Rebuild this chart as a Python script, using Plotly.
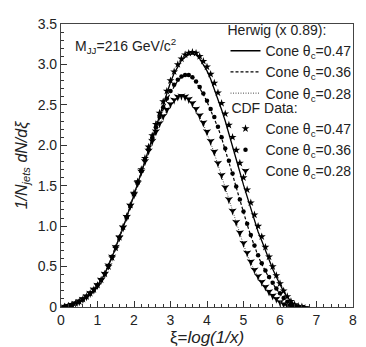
import plotly.graph_objects as go

# Herwig curves (x 0.89)
xi_curve = [round(0.1 * i, 1) for i in range(0, 69)]
herwig_047 = [0.0, 0.004, 0.012, 0.025, 0.042, 0.065, 0.093, 0.127, 0.167, 0.212,
              0.265, 0.33, 0.41, 0.51, 0.62, 0.74, 0.86, 0.98, 1.11, 1.25,
              1.39, 1.54, 1.68, 1.82, 1.96, 2.1, 2.24, 2.38, 2.52, 2.65,
              2.78, 2.89, 2.98, 3.05, 3.09, 3.12, 3.13, 3.12, 3.07, 3.0,
              2.92, 2.82, 2.7, 2.57, 2.44, 2.3, 2.15, 1.99, 1.83, 1.67,
              1.51, 1.36, 1.21, 1.07, 0.93, 0.82, 0.7, 0.58, 0.47, 0.37,
              0.27, 0.19, 0.12, 0.07, 0.035, 0.015, 0.006, 0.002, 0.0]
herwig_036 = [0.0, 0.004, 0.012, 0.025, 0.042, 0.065, 0.093, 0.127, 0.167, 0.212,
              0.265, 0.33, 0.41, 0.51, 0.62, 0.74, 0.86, 0.98, 1.11, 1.25,
              1.39, 1.54, 1.68, 1.81, 1.95, 2.08, 2.21, 2.33, 2.45, 2.56,
              2.65, 2.73, 2.8, 2.84, 2.86, 2.86, 2.83, 2.78, 2.71, 2.63,
              2.54, 2.44, 2.34, 2.22, 2.09, 1.95, 1.8, 1.64, 1.48, 1.32,
              1.17, 1.02, 0.88, 0.75, 0.63, 0.53, 0.44, 0.36, 0.29, 0.22,
              0.16, 0.1, 0.06, 0.03, 0.012, 0.004, 0.0, 0.0, 0.0]
herwig_028 = [0.0, 0.004, 0.012, 0.025, 0.042, 0.065, 0.093, 0.127, 0.167, 0.212,
              0.265, 0.33, 0.41, 0.51, 0.62, 0.74, 0.86, 0.98, 1.11, 1.25,
              1.39, 1.53, 1.67, 1.8, 1.93, 2.05, 2.16, 2.26, 2.35, 2.43,
              2.5, 2.55, 2.58, 2.6, 2.59, 2.56, 2.5, 2.43, 2.35, 2.26,
              2.15, 2.03, 1.9, 1.76, 1.61, 1.46, 1.31, 1.17, 1.03, 0.9,
              0.77, 0.65, 0.54, 0.45, 0.37, 0.3, 0.24, 0.18, 0.13, 0.09,
              0.055, 0.03, 0.014, 0.005, 0.0, 0.0, 0.0, 0.0, 0.0]

# CDF data
xi_data = [round(0.1 * i + 0.1, 1) for i in range(0, 66)]
cdf_047 = [0.005, 0.014, 0.027, 0.045, 0.068, 0.097, 0.13, 0.17, 0.215, 0.27,
           0.335, 0.41, 0.5, 0.61, 0.73, 0.86, 0.99, 1.12, 1.26, 1.41,
           1.55, 1.7, 1.84, 1.98, 2.12, 2.26, 2.4, 2.54, 2.67, 2.8,
           2.91, 3.0, 3.07, 3.12, 3.14, 3.15, 3.14, 3.1, 3.04, 2.97,
           2.88, 2.77, 2.65, 2.52, 2.39, 2.25, 2.1, 1.94, 1.78, 1.6,
           1.45, 1.29, 1.14, 1.0, 0.87, 0.74, 0.62, 0.5, 0.39, 0.29,
           0.2, 0.13, 0.07, 0.03, 0.01, 0.003]
cdf_036 = [0.005, 0.014, 0.027, 0.045, 0.068, 0.097, 0.13, 0.17, 0.215, 0.27,
           0.335, 0.41, 0.51, 0.62, 0.74, 0.86, 0.98, 1.11, 1.25, 1.39,
           1.54, 1.68, 1.82, 1.95, 2.09, 2.22, 2.35, 2.47, 2.58, 2.67,
           2.75, 2.81, 2.85, 2.87, 2.87, 2.84, 2.79, 2.72, 2.64, 2.55,
           2.45, 2.35, 2.23, 2.1, 1.96, 1.81, 1.65, 1.49, 1.33, 1.18,
           1.03, 0.89, 0.76, 0.64, 0.54, 0.45, 0.37, 0.3, 0.23, 0.17,
           0.11, 0.065, 0.033, 0.014, 0.005, 0.001]
cdf_028 = [0.005, 0.014, 0.027, 0.045, 0.068, 0.097, 0.13, 0.17, 0.215, 0.27,
           0.335, 0.41, 0.51, 0.62, 0.74, 0.86, 0.98, 1.11, 1.25, 1.39,
           1.53, 1.67, 1.8, 1.93, 2.05, 2.17, 2.27, 2.36, 2.44, 2.51,
           2.56, 2.6, 2.61, 2.6, 2.57, 2.52, 2.45, 2.37, 2.28, 2.17,
           2.05, 1.92, 1.78, 1.63, 1.48, 1.33, 1.19, 1.05, 0.92, 0.79,
           0.67, 0.56, 0.46, 0.38, 0.31, 0.25, 0.19, 0.14, 0.1, 0.06,
           0.034, 0.016, 0.006, 0.002, 0.0, 0.0]

y_ticks = [0, 0.5, 1.0, 1.5, 2.0, 2.5, 3.0, 3.5]
y_ticktext = ["0", "0.5", "1.0", "1.5", "2.0", "2.5", "3.0", "3.5"]
x_ticks = [0, 1, 2, 3, 4, 5, 6, 7, 8]

FONT = "Liberation Sans, Arial, sans-serif"
fig = go.Figure()

fig.add_trace(go.Scatter(x=xi_curve, y=herwig_047, mode="lines",
                         line=dict(color="black", width=1.3),
                         name="Cone θ<sub>c</sub>=0.47", legend="legend"))
fig.add_trace(go.Scatter(x=xi_curve, y=herwig_036, mode="lines",
                         line=dict(color="black", width=1.2, dash="3px,2px"),
                         name="Cone θ<sub>c</sub>=0.36", legend="legend"))
fig.add_trace(go.Scatter(x=xi_curve, y=herwig_028, mode="lines",
                         line=dict(color="#333", width=0.9, dash="1px,1.5px"),
                         name="Cone θ<sub>c</sub>=0.28", legend="legend"))

fig.add_trace(go.Scatter(x=xi_data, y=cdf_047, mode="markers",
                         marker=dict(symbol="star", size=6, color="black", line=dict(width=0)),
                         name="Cone θ<sub>c</sub>=0.47", legend="legend2"))
fig.add_trace(go.Scatter(x=xi_data, y=cdf_036, mode="markers",
                         marker=dict(symbol="circle", size=4.5, color="black", line=dict(width=0)),
                         name="Cone θ<sub>c</sub>=0.36", legend="legend2"))
fig.add_trace(go.Scatter(x=xi_data, y=cdf_028, mode="markers",
                         marker=dict(symbol="star-triangle-down", size=6, color="black", line=dict(width=0)),
                         name="Cone θ<sub>c</sub>=0.28", legend="legend2"))

legend_common = dict(xanchor="right", yanchor="top", bgcolor="rgba(0,0,0,0)",
                     font=dict(size=14, family=FONT, color="#222"),
                     itemwidth=30, tracegroupgap=0)

# page body has an 8px default margin; figure sized to fit the 366x347 window
fig.update_layout(
    width=358, height=339,
    margin=dict(l=53, r=13, t=9, b=40),
    paper_bgcolor="white", plot_bgcolor="white",
    font=dict(family=FONT, size=14, color="#222"),
    showlegend=True,
    legend=dict(x=1.012, y=1.025,
                title=dict(text="Herwig (x 0.89):", side="top",
                           font=dict(size=14, family=FONT, color="#222")),
                **legend_common),
    legend2=dict(x=1.012, y=0.75,
                 title=dict(text=" CDF Data:", side="top",
                            font=dict(size=14, family=FONT, color="#222")),
                 **legend_common),
    xaxis=dict(range=[0, 8], tickvals=x_ticks, ticks="inside", ticklen=6,
               tickcolor="#333", showline=True, linecolor="#444", linewidth=1.2,
               mirror=True, showgrid=False, zeroline=False, automargin=False,
               minor=dict(dtick=0.2, ticks="inside", ticklen=3, tickcolor="#333", showgrid=False),
               title=dict(text="ξ=<i>log(1/x)</i>", standoff=0, font=dict(size=17))),
    yaxis=dict(range=[0, 3.5], tickvals=y_ticks, ticktext=y_ticktext, ticks="inside",
               ticklen=6, tickcolor="#333", showline=True, linecolor="#444", linewidth=1.2,
               mirror=True, showgrid=False, zeroline=False, automargin=False,
               minor=dict(dtick=0.1, ticks="inside", ticklen=3, tickcolor="#333", showgrid=False),
               title=dict(text="<i>1/N<sub>jets</sub> dN/dξ</i>", standoff=6, font=dict(size=16))),
)

fig.add_annotation(x=0.04, y=0.965, xref="paper", yref="paper", xanchor="left", yanchor="top",
                   text="M<sub>JJ</sub>=216 GeV/c<sup>2</sup>", showarrow=False,
                   font=dict(size=14, family=FONT, color="#222"))

fig.write_html("out.html")
